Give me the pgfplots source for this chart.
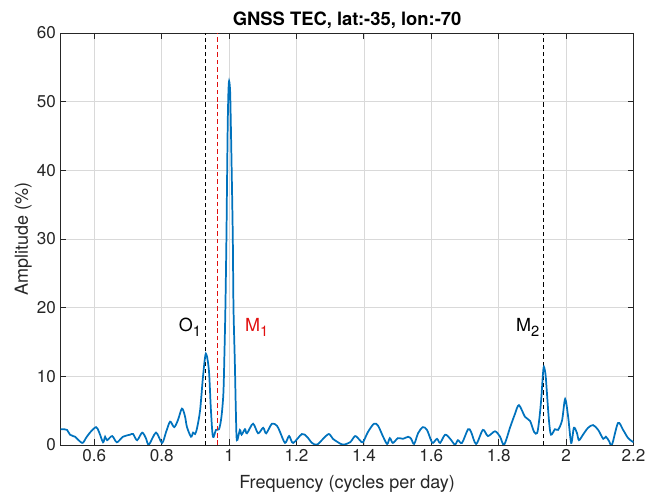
\documentclass[border=0pt]{standalone}
\usepackage{pgfplots}
\pgfplotsset{compat=1.18}
\usepackage{fontspec}
\setmainfont{TeX Gyre Heros}
\definecolor{mblue}{rgb}{0,0.447,0.741}
\definecolor{mred}{RGB}{225,15,15}
\definecolor{axgray}{rgb}{0.15,0.15,0.15}
\newcommand{\sub}[1]{\raisebox{-0.55ex}{\fontsize{11}{12}\selectfont #1}}
\begin{document}
\begin{tikzpicture}
\useasboundingbox (-45.45pt,-40.5pt) rectangle (441.3pt,333.75pt);
\begin{axis}[
  scale only axis,
  width=429.7pt, height=309pt,
  xmin=0.5, xmax=2.2, ymin=0, ymax=60,
  xtick={0.6,0.8,...,2.2},
  ytick={0,10,...,60},
  xticklabels={0.6,0.8,1,1.2,1.4,1.6,1.8,2,2.2},
  grid=major,
  major grid style={color=black!15, line width=0.6pt},
  tick align=inside,
  major tick length=4.3pt,
  tick style={axgray, line width=0.7pt},
  axis line style={axgray, line width=0.7pt},
  tick label style={font=\fontsize{12.8}{14}\selectfont, text=axgray},
  /pgf/number format/assume math mode=true,
  xlabel={Frequency (cycles per day)},
  ylabel={Amplitude (\%)},
  label style={font=\fontsize{13.5}{15}\selectfont, text=axgray},
  xlabel style={yshift=-3pt},
  ylabel style={yshift=-3pt},
  title={GNSS TEC, lat:-35, lon:-70},
  title style={font=\bfseries\fontsize{13.8}{15}\selectfont, yshift=-6pt},
  clip=true,
]
\addplot[draw=black, line width=0.8pt, dash pattern=on 3.2pt off 2.2pt] coordinates {(0.9295,0) (0.9295,60)};
\addplot[draw=black, line width=0.8pt, dash pattern=on 3.2pt off 2.2pt] coordinates {(1.9323,0) (1.9323,60)};
\addplot[draw=mblue, line width=1.3pt, smooth, tension=0.5] coordinates {
(0.500,2.3) (0.510,2.3) (0.519,2.2) (0.528,1.5) (0.537,1.3) (0.543,1.2)
(0.564,0.3) (0.575,1.0) (0.587,1.8) (0.605,2.6) (0.614,1.9) (0.626,0.4)
(0.632,1.2) (0.638,0.7) (0.653,1.3) (0.667,0.4) (0.685,1.2) (0.706,1.5)
(0.715,1.6) (0.727,0.7) (0.742,1.8) (0.753,1.0) (0.762,0.05) (0.783,1.8)
(0.801,0.3) (0.813,1.9) (0.825,3.4) (0.837,2.6) (0.848,3.6) (0.860,5.3)
(0.869,4.2) (0.875,2.6) (0.887,1.2) (0.893,1.8) (0.899,1.6) (0.905,2.5)
(0.914,5.1) (0.923,10.2) (0.931,13.3) (0.940,10.9) (0.946,5.1) (0.952,1.2)
(0.961,2.2) (0.970,2.3) (0.977,4.0) (0.983,7.5) (0.986,13) (0.989,20)
(0.992,30) (0.994,39) (0.996,47) (0.998,51.5) (1.000,53) (1.003,51.5)
(1.005,47) (1.008,39) (1.011,30) (1.013,20) (1.017,12) (1.020,5)
(1.023,0.7) (1.032,2.2) (1.037,1.5) (1.047,2.3) (1.053,1.7) (1.071,3.1)
(1.086,1.7) (1.101,2.5) (1.110,1.7) (1.127,3.1) (1.142,2.8) (1.151,1.9)
(1.166,0.3) (1.178,1.3) (1.190,0.3) (1.216,1.6) (1.231,1.2) (1.246,0.3)
(1.261,0.05) (1.279,0.9) (1.296,1.6) (1.308,0.9) (1.323,0.4) (1.338,0.05)
(1.359,0.4) (1.374,1.3) (1.388,0.7) (1.397,0.4) (1.412,1.9) (1.430,3.1)
(1.442,2.8) (1.457,1.2) (1.469,0.15) (1.477,1.0) (1.486,0.3) (1.501,1.0)
(1.516,0.9) (1.531,1.2) (1.540,0.9) (1.549,0.15) (1.561,1.75) (1.575,2.6)
(1.587,2.2) (1.599,0.7) (1.605,0.3) (1.617,0.9) (1.626,0.3) (1.641,1.5)
(1.656,0.9) (1.670,0.05) (1.679,0.7) (1.691,0.3) (1.709,2.3) (1.718,1.9)
(1.733,0.15) (1.753,2.2) (1.768,1.3) (1.789,2.0) (1.804,1.2) (1.816,0.05)
(1.834,2.6) (1.848,4.5) (1.860,5.8) (1.878,4.1) (1.893,3.5) (1.905,1.9)
(1.914,1.75) (1.920,3.6) (1.926,6.6) (1.931,10.2) (1.934,11.4) (1.939,10.2)
(1.943,7.6) (1.949,3.6) (1.955,1.5) (1.967,2.3) (1.976,2.2) (1.988,3.6)
(1.997,6.7) (2.006,4.1) (2.015,0.3) (2.023,2.5) (2.032,1.75) (2.038,0.7)
(2.050,1.5) (2.065,2.5) (2.080,2.9) (2.095,2.2) (2.110,0.9) (2.118,1.2)
(2.127,0.6) (2.136,0.05) (2.154,3.2) (2.169,2.2) (2.184,1.0) (2.200,0.4)
};
\addplot[color=mred, line width=1.2pt, dash pattern=on 3.4pt off 2.2pt] coordinates {(0.9661,0) (0.9661,60)};
\node[anchor=base west, inner sep=0pt, font=\fontsize{13.5}{15}\selectfont]
  at (axis cs:0.850,16.6) {O\sub{1}};
\node[anchor=base west, inner sep=0pt, text=mred, font=\fontsize{13.5}{15}\selectfont]
  at (axis cs:1.047,16.6) {M\sub{1}};
\node[anchor=base west, inner sep=0pt, font=\fontsize{13.5}{15}\selectfont]
  at (axis cs:1.851,16.6) {M\sub{2}};
\end{axis}
\end{tikzpicture}
\end{document}
